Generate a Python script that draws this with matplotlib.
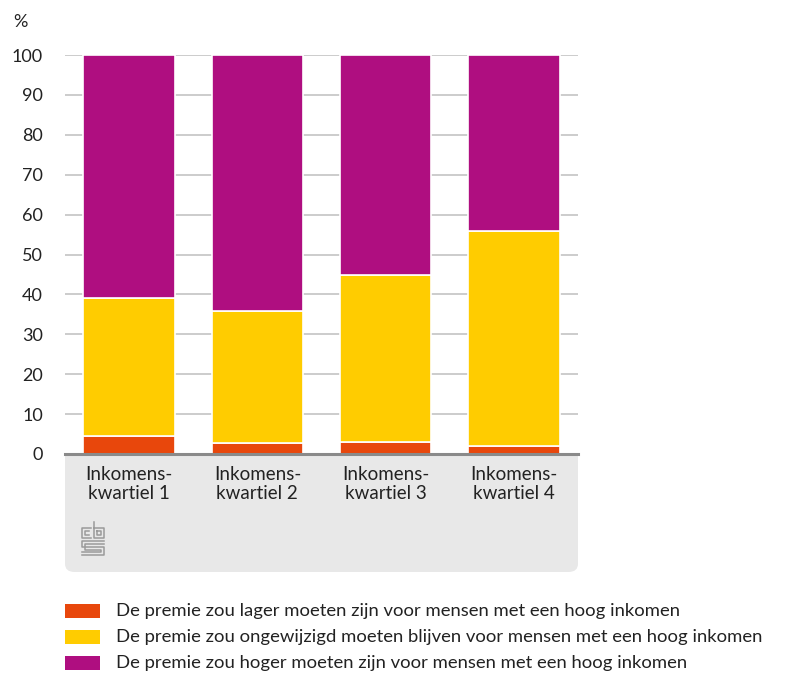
import matplotlib.pyplot as plt
from matplotlib.patches import FancyBboxPatch, Rectangle
from matplotlib.lines import Line2D

plt.rcParams['font.family'] = ['Lato', 'DejaVu Sans']

categories = ['Inkomens-\nkwartiel 1', 'Inkomens-\nkwartiel 2', 'Inkomens-\nkwartiel 3', 'Inkomens-\nkwartiel 4']
lager = [4.5, 2.8, 3.0, 2.0]
ongewijzigd = [34.6, 33.0, 41.9, 53.9]
hoger = [60.9, 64.2, 55.1, 44.1]
series_labels = [
    'De premie zou lager moeten zijn voor mensen met een hoog inkomen',
    'De premie zou ongewijzigd moeten blijven voor mensen met een hoog inkomen',
    'De premie zou hoger moeten zijn voor mensen met een hoog inkomen',
]
colors = ['#e8470c', '#ffcc00', '#af0e80']
yticks = [0, 10, 20, 30, 40, 50, 60, 70, 80, 90, 100]

W, H = 796, 683
fig = plt.figure(figsize=(W / 100, H / 100), dpi=100)
ax = fig.add_axes([65 / W, 1 - 454 / H, (578 - 65) / W, (454 - 55) / H])

x = range(len(categories))
bottom = [0] * len(categories)
for vals, col in zip([lager, ongewijzigd, hoger], colors):
    ax.bar(x, vals, bottom=bottom, width=0.715, color=col, edgecolor='white', linewidth=1.2, zorder=3)
    bottom = [b + v for b, v in zip(bottom, vals)]

ax.set_xlim(-0.5, 3.5)
ax.set_ylim(0, 100)
ax.set_yticks(yticks)
ax.set_yticklabels([str(t) for t in yticks], fontsize=13, color='#222222')
ax.yaxis.grid(True, color='#c4c4c4', linewidth=1.2, zorder=0)
ax.set_axisbelow(True)
ax.tick_params(axis='y', length=0, pad=16)
ax.tick_params(axis='x', length=0, pad=9)
ax.set_xticks(list(x))
ax.set_xticklabels(categories, fontsize=13.5, color='#222222', linespacing=1.1)
for s in ['top', 'right', 'left']:
    ax.spines[s].set_visible(False)
ax.spines['bottom'].set_color('#8a8a8a')
ax.spines['bottom'].set_linewidth(2.2)
ax.spines['bottom'].set_zorder(5)

fig.text(13 / W, 1 - 22 / H, '%', fontsize=13, color='#222222', va='center', ha='left')

# grey panel beneath the axis
panel = FancyBboxPatch((65 / W, 1 - 572 / H), (578 - 65) / W, (572 - 430) / H,
                       boxstyle='round,pad=0,rounding_size=0.012', transform=fig.transFigure,
                       facecolor='#e8e8e8', edgecolor='none', zorder=-1)
fig.patches.append(panel)

# rough cbs logo
lc = '#9a9a9a'
def seg(xs, ys):
    fig.add_artist(Line2D([v / W for v in xs], [1 - v / H for v in ys], color=lc, linewidth=1.1))
seg([91, 82, 82, 91], [528, 528, 538, 538])
seg([89, 85, 85, 89], [531, 531, 535, 535])
seg([94, 94, 104, 104, 94], [522, 538, 538, 528, 528])
seg([97, 97, 101, 101, 97], [531, 535, 535, 531, 531])
seg([104, 82, 82, 104, 104, 82], [541, 541, 547, 547, 555, 555])
seg([104, 85, 85, 101, 101, 82], [544, 544, 550, 550, 552, 552])

# legend
rows = [611, 637, 663]
for yc, col, lab in zip(rows, colors, series_labels):
    fig.patches.append(Rectangle((65 / W, 1 - (yc + 7) / H), 35 / W, 14 / H,
                                 transform=fig.transFigure, facecolor=col, edgecolor='none'))
    fig.text(116 / W, 1 - yc / H, lab, fontsize=13.3, color='#222222', va='center', ha='left')

fig.savefig('out.png', dpi=100)
